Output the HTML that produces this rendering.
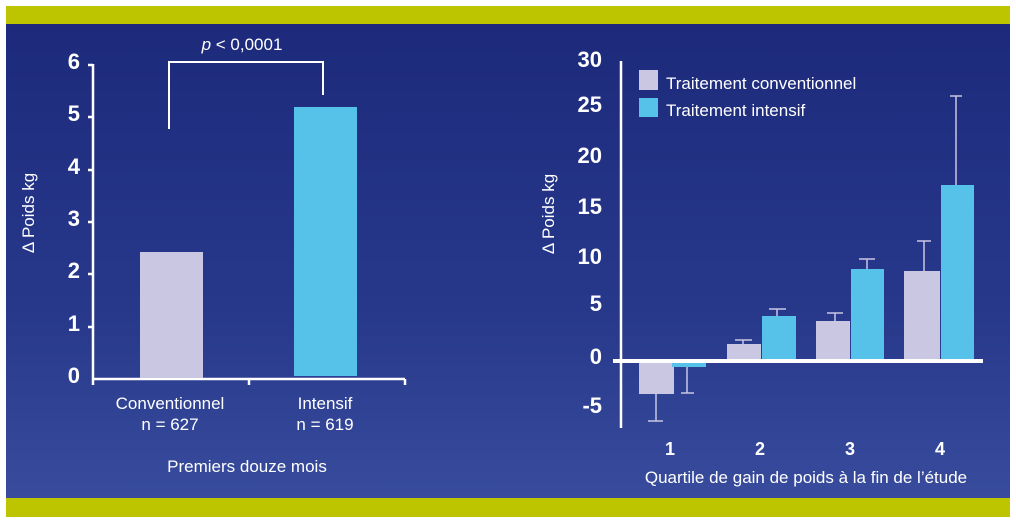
<!DOCTYPE html>
<html><head><meta charset="utf-8"><style>
html,body{margin:0;padding:0;background:#fff;}
svg{display:block;}
</style></head><body>
<svg width="1016" height="524" xmlns="http://www.w3.org/2000/svg" font-family="Liberation Sans, sans-serif">
<defs><linearGradient id="bg" x1="0" y1="0" x2="0" y2="1">
<stop offset="0" stop-color="#1d2a7c"/><stop offset="0.6" stop-color="#27388a"/><stop offset="1" stop-color="#384b9c"/></linearGradient></defs>
<rect x="6" y="6" width="1004" height="18" fill="#bcc500"/>
<rect x="6" y="24" width="1004" height="474" fill="url(#bg)"/>
<rect x="6" y="498" width="1004" height="19" fill="#bcc500"/>

<!-- LEFT CHART -->
<g fill="#fff" font-weight="bold" font-size="22" text-anchor="end">
<text x="80" y="69">6</text><text x="80" y="121">5</text><text x="80" y="174">4</text>
<text x="80" y="226">3</text><text x="80" y="278">2</text><text x="80" y="331">1</text><text x="80" y="383">0</text>
</g>
<g stroke="#fff" stroke-width="2.5" fill="none">
<line x1="93" y1="64" x2="93" y2="385"/>
<line x1="92" y1="379" x2="405" y2="379"/>
<line x1="249" y1="379" x2="249" y2="385"/><line x1="405" y1="379" x2="405" y2="385"/>
<line x1="88" y1="65" x2="93" y2="65"/><line x1="88" y1="117" x2="93" y2="117"/><line x1="88" y1="170" x2="93" y2="170"/>
<line x1="88" y1="222" x2="93" y2="222"/><line x1="88" y1="274" x2="93" y2="274"/><line x1="88" y1="327" x2="93" y2="327"/>
</g>
<rect x="140" y="252" width="63" height="126" fill="#c9c7e2"/>
<rect x="294" y="107" width="63" height="269" fill="#56c2ea"/>
<polyline points="169,129 169,62 323,62 323,95" stroke="#fff" stroke-width="2" fill="none"/>
<text x="242" y="50" fill="#fff" font-size="17" text-anchor="middle"><tspan font-style="italic">p</tspan> &lt; 0,0001</text>
<g fill="#fff" font-size="17" text-anchor="middle">
<text x="170" y="409">Conventionnel</text><text x="170" y="430">n = 627</text>
<text x="325" y="409">Intensif</text><text x="325" y="430">n = 619</text>
<text x="247" y="472">Premiers douze mois</text>
</g>
<text transform="translate(34,213) rotate(-90)" fill="#fff" font-size="17" text-anchor="middle">Δ Poids kg</text>

<!-- RIGHT CHART -->
<g fill="#fff" font-weight="bold" font-size="22" text-anchor="end">
<text x="602" y="67">30</text><text x="602" y="112">25</text><text x="602" y="163">20</text>
<text x="602" y="214">15</text><text x="602" y="264">10</text><text x="602" y="311">5</text>
<text x="602" y="364">0</text><text x="602" y="413">-5</text>
</g>
<line x1="621" y1="61" x2="621" y2="428" stroke="#fff" stroke-width="2.5"/>
<rect x="639" y="362" width="35" height="32" fill="#c9c7e2"/>
<rect x="672" y="362" width="34" height="5" fill="#56c2ea"/>
<rect x="727" y="344" width="34" height="17" fill="#c9c7e2"/>
<rect x="762" y="316" width="34" height="45" fill="#56c2ea"/>
<rect x="816" y="321" width="34" height="40" fill="#c9c7e2"/>
<rect x="851" y="269" width="33" height="92" fill="#56c2ea"/>
<rect x="904" y="271" width="36" height="90" fill="#c9c7e2"/>
<rect x="941" y="185" width="33" height="176" fill="#56c2ea"/>
<rect x="613" y="359" width="370" height="4" fill="#fff"/>
<g stroke="#c9c7e2" stroke-width="1.5">
<line x1="656" y1="394" x2="656" y2="421"/><line x1="648" y1="421" x2="663" y2="421"/>
<line x1="687" y1="367" x2="687" y2="393"/><line x1="681" y1="393" x2="694" y2="393"/>
<line x1="743" y1="344" x2="743" y2="340"/><line x1="735" y1="340" x2="752" y2="340"/>
<line x1="777" y1="316" x2="777" y2="309"/><line x1="769" y1="309" x2="786" y2="309"/>
<line x1="835" y1="321" x2="835" y2="313"/><line x1="827" y1="313" x2="843" y2="313"/>
<line x1="867" y1="269" x2="867" y2="259"/><line x1="859" y1="259" x2="875" y2="259"/>
<line x1="924" y1="271" x2="924" y2="241"/><line x1="917" y1="241" x2="931" y2="241"/>
<line x1="956" y1="185" x2="956" y2="96"/><line x1="950" y1="96" x2="962" y2="96"/>
</g>
<rect x="639" y="70" width="19" height="20" fill="#c9c7e2"/>
<rect x="639" y="98" width="19" height="19" fill="#56c2ea"/>
<g fill="#fff" font-size="17">
<text x="666" y="89">Traitement conventionnel</text>
<text x="666" y="116">Traitement intensif</text>
</g>
<g fill="#fff" font-weight="bold" font-size="18" text-anchor="middle">
<text x="670" y="455">1</text><text x="760" y="455">2</text><text x="850" y="455">3</text><text x="940" y="455">4</text>
</g>
<text x="806" y="483" fill="#fff" font-size="17" text-anchor="middle">Quartile de gain de poids à la fin de l’étude</text>
<text transform="translate(554,214) rotate(-90)" fill="#fff" font-size="17" text-anchor="middle">Δ Poids kg</text>
</svg>
</body></html>
